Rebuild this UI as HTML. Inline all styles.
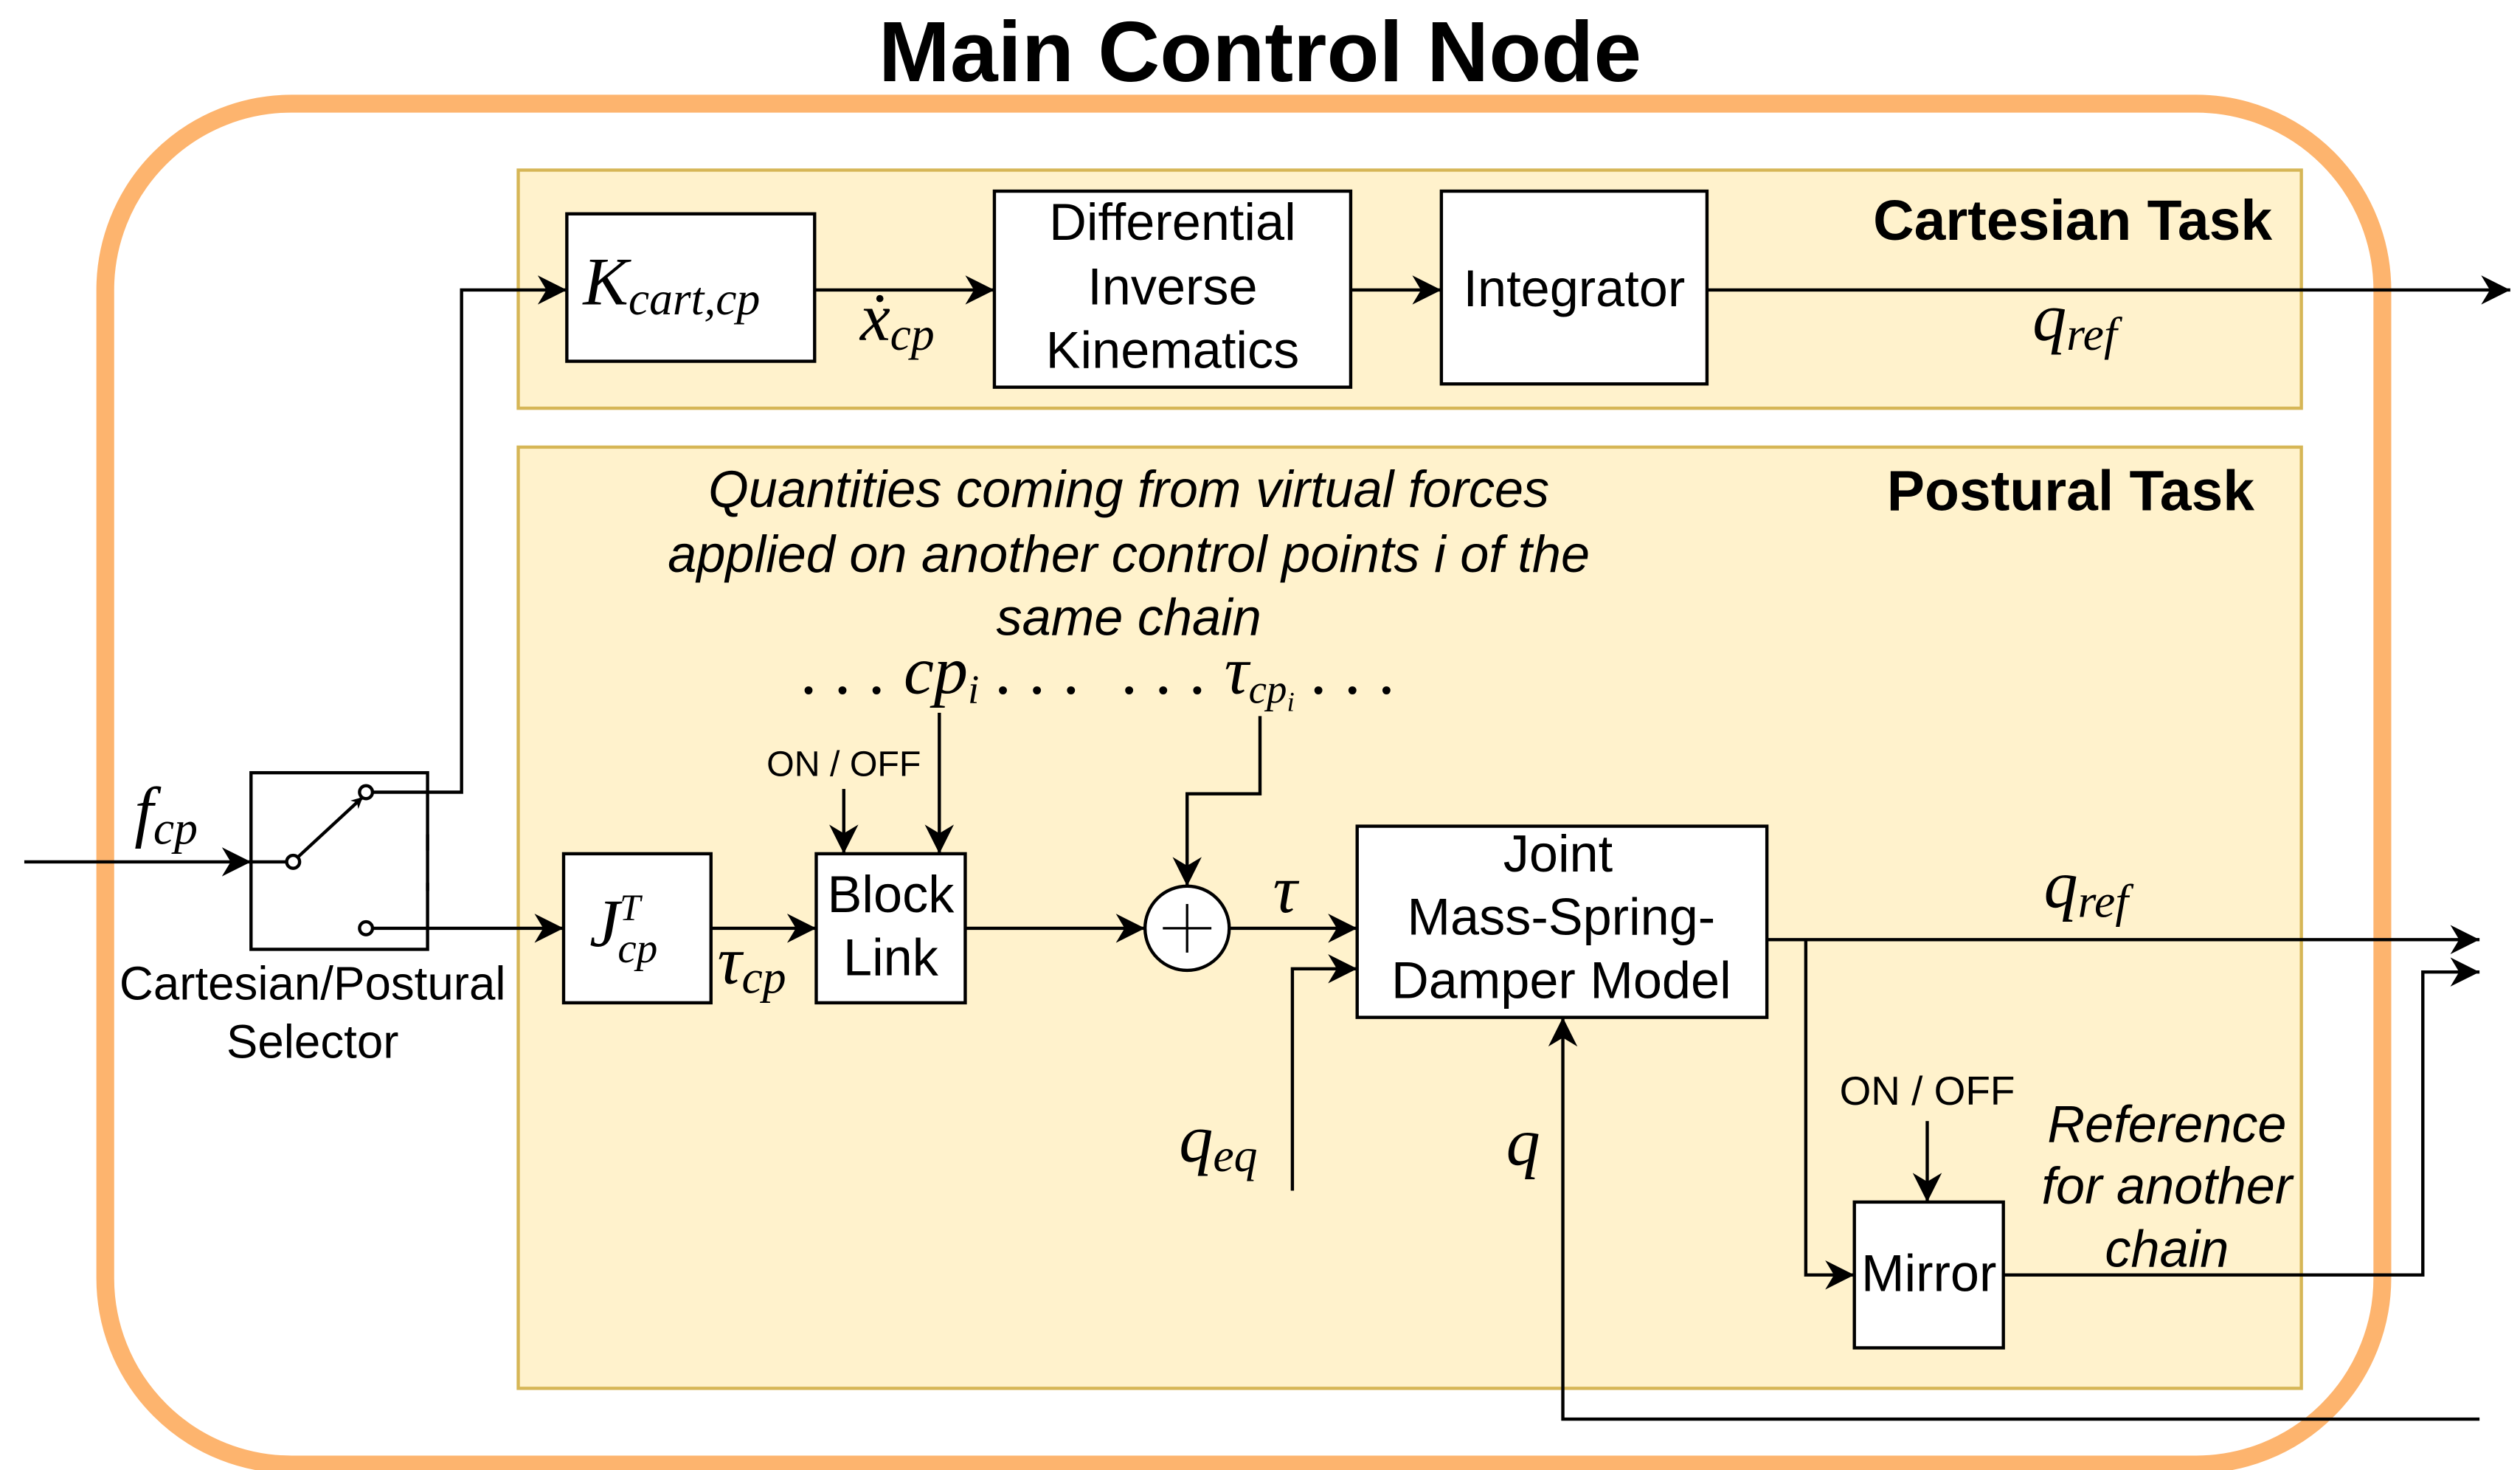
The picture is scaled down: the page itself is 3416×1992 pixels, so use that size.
<!DOCTYPE html>
<html><head><meta charset="utf-8"><style>
html,body{margin:0;padding:0;background:#fff;}
svg{display:block;}
.s{font-family:"Liberation Sans",sans-serif;}
.m{font-family:"Liberation Serif",serif;font-style:italic;}
</style></head><body>
<svg width="3416" height="1992" viewBox="0 0 1556 907.4" preserveAspectRatio="none" xmlns="http://www.w3.org/2000/svg">
<defs>
<marker id="a" viewBox="0 0 10 10" refX="10" refY="5" markerWidth="7" markerHeight="7" markerUnits="userSpaceOnUse" orient="auto"><path d="M0,0 L10,5 L0,10 L3,5 z" fill="#000"/></marker>
<marker id="b" viewBox="0 0 10 10" refX="10" refY="5" markerWidth="18" markerHeight="18" markerUnits="userSpaceOnUse" orient="auto"><path d="M0,0 L10,5 L0,10 L3,5 z" fill="#000"/></marker>
</defs>
<rect width="1556" height="907.4" fill="#fff"/>
<text x="778" y="50" class="s" font-weight="bold" font-size="53" text-anchor="middle">Main Control Node</text>
<rect x="65" y="64" width="1406" height="840" rx="115" fill="none" stroke="#FDB46E" stroke-width="11"/>
<rect x="320" y="105" width="1101" height="147" fill="#FFF2CC" stroke="#D6B656" stroke-width="2"/>
<rect x="320" y="276" width="1101" height="581" fill="#FFF2CC" stroke="#D6B656" stroke-width="2"/>
<text x="1403" y="148" class="s" font-weight="bold" font-size="35" text-anchor="end">Cartesian Task</text>
<text x="1392" y="315" class="s" font-weight="bold" font-size="35" text-anchor="end">Postural Task</text>
<g fill="#fff" stroke="#000" stroke-width="2">
<rect x="350" y="132" width="153" height="91"/>
<rect x="614" y="118" width="220" height="121"/>
<rect x="890" y="118" width="164" height="119"/>
<rect x="155" y="477" width="109" height="109"/>
<rect x="348" y="527" width="91" height="92"/>
<rect x="504" y="527" width="92" height="92"/>
<rect x="838" y="510" width="253" height="118"/>
<rect x="1145" y="742" width="92" height="90"/>
<circle cx="733" cy="573" r="26"/>
</g>
<g class="s" font-size="32" text-anchor="middle">
<text x="724" y="148">Differential</text>
<text x="724" y="188">Inverse</text>
<text x="724" y="227">Kinematics</text>
<text x="972" y="189">Integrator</text>
<text x="550" y="563">Block</text>
<text x="550" y="602">Link</text>
<text x="962" y="538">Joint</text>
<text x="964" y="577">Mass-Spring-</text>
<text x="964" y="616">Damper Model</text>
<text x="1191" y="797">Mirror</text>
<text x="193" y="617" font-size="29">Cartesian/Postural</text>
<text x="193" y="653" font-size="29">Selector</text>
<text x="521" y="479" font-size="22">ON / OFF</text>
<text x="1190" y="682" font-size="25">ON / OFF</text>
</g>
<g class="s" font-size="32" font-style="italic" text-anchor="middle">
<text x="697" y="313">Quantities coming from virtual forces</text>
<text x="697" y="353">applied on another control points i of the</text>
<text x="697" y="392">same chain</text>
<text x="1338" y="705">Reference</text>
<text x="1338" y="743">for another</text>
<text x="1338" y="782">chain</text>
</g>
<g class="m" font-size="42">
<text x="360" y="188">K<tspan font-size="29" dy="6">cart,cp</tspan></text>
<text x="531" y="210">ẋ<tspan font-size="29" dy="6">cp</tspan></text>
<text x="1255" y="210">q<tspan font-size="29" dy="6">ref</tspan></text>
<text x="1262" y="560">q<tspan font-size="29" dy="6">ref</tspan></text>
<text x="83" y="515">f<tspan font-size="29" dy="6">cp</tspan></text>
<text x="364" y="584">J<tspan font-size="23" dy="-16">T</tspan><tspan font-size="26" dx="-14" dy="26">cp</tspan></text>
<text x="443" y="607">τ<tspan font-size="29" dy="6">cp</tspan></text>
<text x="786" y="563">τ</text>
<text x="728" y="717">q<tspan font-size="29" dy="6">eq</tspan></text>
<text x="930" y="719">q</text>
<text x="495" y="428">. . . cp<tspan font-size="25" dy="6">i</tspan><tspan dy="-6"> . . .</tspan></text>
<text x="693" y="428">. . . τ<tspan font-size="25" dy="6">cp<tspan font-size="17" dy="5">i</tspan></tspan><tspan dy="-11"> . . .</tspan></text>
</g>
<g fill="none" stroke="#000" stroke-width="2">
<path d="M15,532 H155" marker-end="url(#b)"/>
<path d="M155,532 H177"/>
<circle cx="181" cy="532" r="4" fill="#fff"/>
<circle cx="226" cy="489" r="4" fill="#fff"/>
<circle cx="226" cy="573" r="4" fill="#fff"/>
<path d="M184,529 L224,492" marker-end="url(#a)"/>
<path d="M230,489 H285 V179 H350" marker-end="url(#b)"/>
<path d="M230,573 H348" marker-end="url(#b)"/>
<path d="M264,515 V525 M264,545 V550"/>
<path d="M503,179 H614" marker-end="url(#b)"/>
<path d="M834,179 H890" marker-end="url(#b)"/>
<path d="M1054,179 H1550" marker-end="url(#b)"/>
<path d="M439,573 H504" marker-end="url(#b)"/>
<path d="M521,487 V527" marker-end="url(#b)"/>
<path d="M580,440 V527" marker-end="url(#b)"/>
<path d="M596,573 H707" marker-end="url(#b)"/>
<path d="M778,442 V490 H733 V547" marker-end="url(#b)"/>
<path d="M718,573 H748 M733,558 V588" stroke-width="1.5"/>
<path d="M759,573 H838" marker-end="url(#b)"/>
<path d="M798,735 V598 H838" marker-end="url(#b)"/>
<path d="M1531,876 H965 V628" marker-end="url(#b)"/>
<path d="M1091,580 H1531" marker-end="url(#b)"/>
<path d="M1115,580 V787 H1145" marker-end="url(#b)"/>
<path d="M1190,692 V742" marker-end="url(#b)"/>
<path d="M1237,787 H1496 V600 H1531" marker-end="url(#b)"/>
</g>
</svg>
</body></html>
